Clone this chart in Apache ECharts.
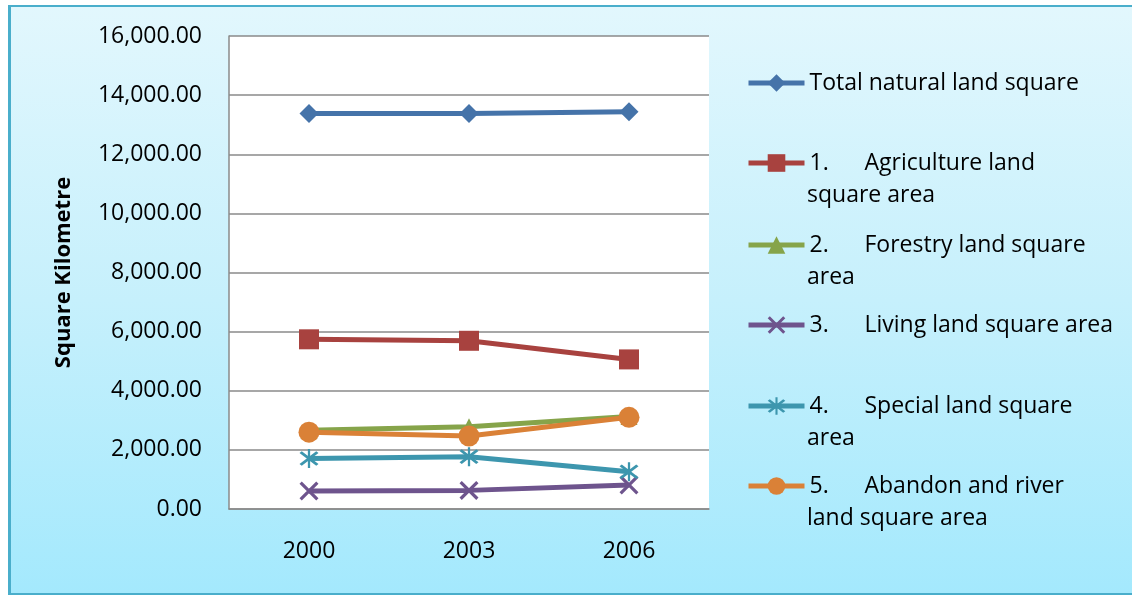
<!DOCTYPE html>
<html>
<head>
<meta charset="utf-8">
<script src="https://cdn.jsdelivr.net/npm/echarts@6/dist/echarts.min.js"></script>
<style>
  html, body { margin: 0; padding: 0; background: #ffffff; overflow: hidden; width: 1132px; height: 596px; }
  #frame {
    position: absolute; left: 8px; top: 5px; width: 1150px; height: 586px;
    border-left: 3px solid #4aaecb; border-top: 2px solid #4aaecb; border-bottom: 2px solid #4aaecb;
    background: linear-gradient(to bottom, #e2f7fd 0%, #c6f0fc 50%, #a4e9fd 100%);
  }
  #chart { position: absolute; left: 0; top: 0; width: 1132px; height: 596px; }
</style>
</head>
<body>
<div id="frame"></div>
<div id="chart"></div>
<script>
// Land use areas (square kilometres) by survey year
const years = ['2000', '2003', '2006'];
const totalNatural = [13380, 13380, 13440];
const agriculture  = [5740, 5690, 5060];
const forestry     = [2660, 2780, 3130];
const living       = [610, 630, 810];
const special      = [1710, 1770, 1260];
const abandon      = [2600, 2470, 3100];

const yTicks = { min: 0, max: 16000, interval: 2000 };

const FONT = '"Open Sans", "Noto Sans", sans-serif';
const FS = 23;

// legend entries: number, first line, continuation line
const legendRows = [
  { name: 'Total natural land square', num: '', first: 'Total natural land square', rest: '' },
  { name: '1. Agriculture land square area', num: '1.', first: 'Agriculture land', rest: 'square area' },
  { name: '2. Forestry land square area', num: '2.', first: 'Forestry land square', rest: 'area' },
  { name: '3. Living land square area', num: '3.', first: 'Living land square area', rest: '' },
  { name: '4. Special land square area', num: '4.', first: 'Special land square', rest: 'area' },
  { name: '5. Abandon and river land square area', num: '5.', first: 'Abandon and river', rest: 'land square area' }
];
const legendCenters = [83, 163, 245, 325, 406, 486];
const LEGEND_X = 746;
const TEXT_X = 807;
const ROW_STEP = 32;

const colors = ['#4573a9', '#a8423f', '#86a44a', '#6e548d', '#3d96ae', '#da8137'];

const xMark = 'path://M0,1.2L1.2,0L10,8.8L8.8,10Z M8.8,0L10,1.2L1.2,10L0,8.8Z';
const starMark = 'path://M0,1.2L1.2,0L10,8.8L8.8,10Z M8.8,0L10,1.2L1.2,10L0,8.8Z M4.4,-1.5H5.6V11.5H4.4Z';

const seriesSpec = [
  { data: totalNatural, symbol: 'diamond', size: 19 },
  { data: agriculture,  symbol: 'rect', size: 20 },
  { data: forestry,     symbol: 'triangle', size: 17 },
  { data: living,       symbol: xMark, size: 19 },
  { data: special,      symbol: starMark, size: 19 },
  { data: abandon,      symbol: 'circle', size: 21 }
];

const chart = echarts.init(document.getElementById('chart'), null, { renderer: 'canvas' });

const series = seriesSpec.map((s, i) => ({
  name: legendRows[i].name,
  type: 'line',
  data: s.data,
  symbol: s.symbol,
  symbolSize: s.size,
  color: colors[i],
  lineStyle: { width: 5, color: colors[i] },
  itemStyle: { color: colors[i] },
  emphasis: { disabled: true },
  animation: false,
  z: 2 + i
}));

const legends = legendRows.map((row, i) => ({
  data: [row.name],
  left: LEGEND_X,
  top: legendCenters[i] - ROW_STEP / 2,
  itemWidth: 56,
  itemHeight: 22,
  itemGap: 0,
  padding: 0,
  selectedMode: false,
  lineStyle: { width: 5 },
  formatter: () => row.num ? '{n|' + row.num + '}{t|' + row.first + '}' : '{t|' + row.first + '}',
  textStyle: {
    fontFamily: FONT, fontSize: FS, color: '#000', lineHeight: ROW_STEP,
    rich: {
      n: { fontFamily: FONT, fontSize: FS, color: '#000', width: 55 },
      t: { fontFamily: FONT, fontSize: FS, color: '#000' }
    }
  }
}));

const contLines = legendRows
  .map((row, i) => ({ row, i }))
  .filter(o => o.row.rest)
  .map(o => ({
    type: 'text',
    left: TEXT_X,
    top: legendCenters[o.i] + ROW_STEP / 2,
    style: {
      text: o.row.rest,
      font: FS + 'px ' + FONT,
      fill: '#000',
      lineHeight: ROW_STEP
    }
  }));

chart.setOption({
  backgroundColor: 'transparent',
  animation: false,
  grid: {
    left: 229, top: 36, right: 423, bottom: 87,
    show: true, backgroundColor: '#ffffff', borderWidth: 0
  },
  legend: legends,
  graphic: contLines,
  xAxis: {
    type: 'category',
    data: years,
    boundaryGap: true,
    axisLine: { show: true, lineStyle: { color: '#8a8a8a', width: 1.5 } },
    axisTick: { show: false },
    axisLabel: { fontFamily: FONT, fontSize: FS, color: '#000', margin: 31 },
    splitLine: { show: false }
  },
  yAxis: {
    type: 'value',
    min: yTicks.min, max: yTicks.max, interval: yTicks.interval,
    name: 'Square Kilometre',
    nameLocation: 'middle',
    nameRotate: 90,
    nameGap: 154,
    nameTextStyle: { fontFamily: FONT, fontSize: 22, fontWeight: 'bold', color: '#000' },
    axisLine: { show: true, lineStyle: { color: '#8a8a8a', width: 1.5 } },
    axisTick: { show: false },
    axisLabel: {
      fontFamily: FONT, fontSize: FS, color: '#000', margin: 27,
      formatter: v => v.toLocaleString('en-US', { minimumFractionDigits: 2, maximumFractionDigits: 2 })
    },
    splitLine: { show: true, lineStyle: { color: '#8a8a8a', width: 1.5 } }
  },
  series: series
});
</script>
</body>
</html>
